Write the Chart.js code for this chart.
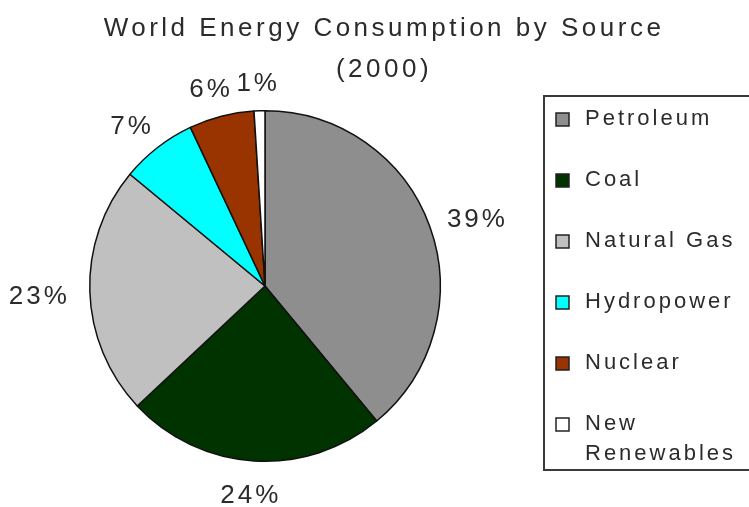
<!DOCTYPE html>
<html>
<head>
<meta charset="utf-8">
<title>World Energy Consumption by Source (2000)</title>
<script src="https://cdn.jsdelivr.net/npm/chart.js@4.4.1/dist/chart.umd.min.js"></script>
<style>
  html, body { margin: 0; padding: 0; background: #ffffff; }
  #wrap { width: 749px; height: 507px; }
</style>
</head>
<body>
<div id="wrap"><canvas id="pie" width="749" height="507"></canvas></div>
<script>
// energy sources and their share of world consumption in 2000 (%)
const sources = ['Petroleum', 'Coal', 'Natural Gas', 'Hydropower', 'Nuclear', 'New Renewables'];
const shares = [39, 24, 23, 7, 6, 1];
const sliceColors = ['#8e8e8e', '#003300', '#c0c0c0', '#00ffff', '#993300', '#ffffff'];
// legend text, wrapped the way it sits in the box
const legendLines = [['Petroleum'], ['Coal'], ['Natural Gas'], ['Hydropower'], ['Nuclear'], ['New', 'Renewables']];
const titleLines = ['World Energy Consumption by Source', '(2000)'];

const FONT = '"Liberation Sans", Arial, sans-serif';
const TEXT = '#2b2b2b';

// title, percent labels around the pie and the boxed legend on the right
const decorations = {
    id: 'decorations',
    afterDraw(chart) {
        const ctx = chart.ctx;
        ctx.save();
        ctx.fillStyle = TEXT;
        ctx.textBaseline = 'middle';

        // title
        ctx.font = '26px ' + FONT;
        ctx.letterSpacing = '3.5px';
        ctx.textAlign = 'center';
        ctx.fillText(titleLines[0], 384, 29);
        ctx.fillText(titleLines[1], 384, 70);

        // percentage labels just outside each slice
        const meta = chart.getDatasetMeta(0);
        ctx.font = '26px ' + FONT;
        ctx.letterSpacing = '3px';
        const gap = 20;
        meta.data.forEach((arc, i) => {
            const mid = (arc.startAngle + arc.endAngle) / 2;
            const dx = Math.cos(mid), dy = Math.sin(mid);
            const text = shares[i] + '%';
            const w = ctx.measureText(text).width;
            const h = 22;
            const ax = arc.x + (arc.outerRadius + gap) * dx;
            const ay = arc.y + (arc.outerRadius + gap) * dy;
            ctx.fillText(text, ax + dx * w / 2, ay + dy * h / 2 + 4);
        });

        // legend box
        const boxLeft = 544, boxTop = 96, boxBottom = 470;
        ctx.strokeStyle = '#3a3a3a';
        ctx.lineWidth = 2;
        ctx.strokeRect(boxLeft, boxTop, 749 - boxLeft + 10, boxBottom - boxTop);

        ctx.font = '22px ' + FONT;
        ctx.letterSpacing = '3px';
        ctx.textAlign = 'left';
        const rowStep = 61, lineStep = 30;
        legendLines.forEach((lines, i) => {
            const y = 119 + i * rowStep;
            ctx.fillStyle = sliceColors[i];
            ctx.fillRect(556, y - 6, 13, 13);
            ctx.strokeStyle = '#222';
            ctx.lineWidth = 1.5;
            ctx.strokeRect(556, y - 6, 13, 13);
            ctx.fillStyle = TEXT;
            lines.forEach((line, k) => ctx.fillText(line, 585, y + k * lineStep));
        });
        ctx.restore();
    }
};

new Chart(document.getElementById('pie'), {
    type: 'pie',
    data: {
        labels: sources,
        datasets: [{
            data: shares,
            backgroundColor: sliceColors,
            borderColor: '#111111',
            borderWidth: 1.5
        }]
    },
    options: {
        responsive: false,
        animation: false,
        layout: { padding: { left: 89, right: 308, top: 110, bottom: 45 } },
        plugins: {
            legend: { display: false },
            title: { display: false },
            tooltip: { enabled: false }
        }
    },
    plugins: [decorations]
});
</script>
</body>
</html>
